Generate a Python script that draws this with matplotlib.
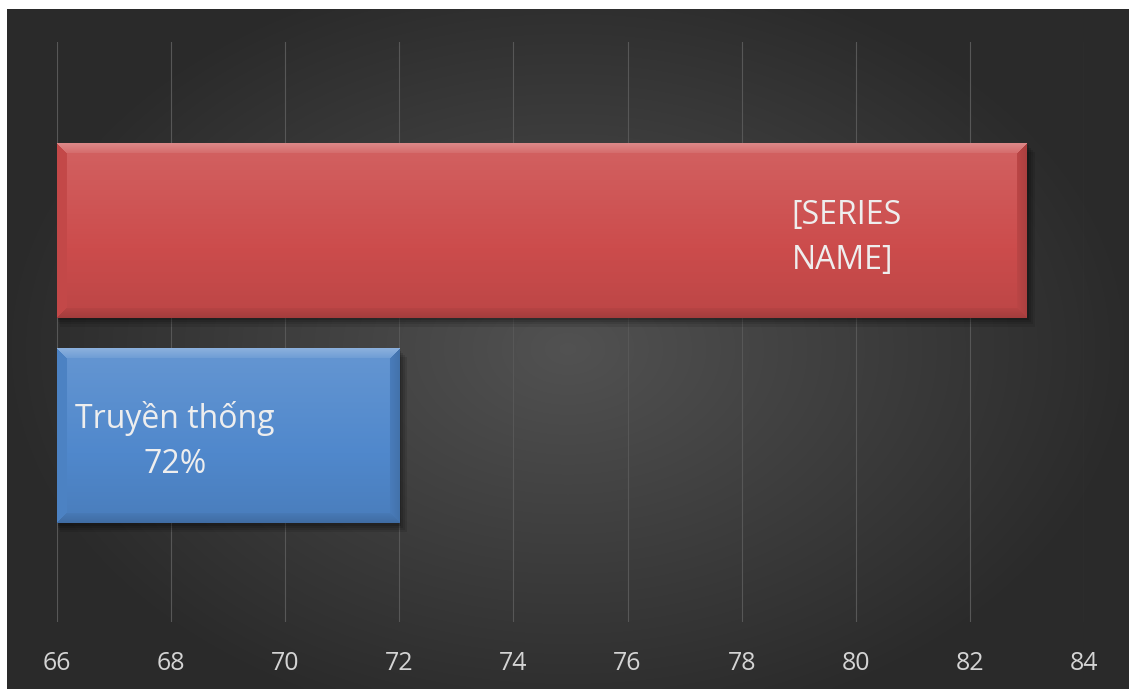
import numpy as np
import matplotlib.pyplot as plt
from matplotlib.colors import to_rgb

# dữ liệu
categories = ['Truyền thống', '[SERIES NAME]']
values = [72, 83]
label_texts = ['Truyền thống\n72%', '[SERIES\nNAME]']
bar_colors = ['#5088cc', '#cc4c4c']
x_min, x_max, x_step = 66, 84, 2

W, H, DPI = 1129, 689, 100
fig = plt.figure(figsize=(W / DPI, H / DPI), dpi=DPI, facecolor='white')

# nền tối với gradient tròn
bg = fig.add_axes([7 / W, 0, 1 - 7 / W, 1 - 9 / H])
bg.set_axis_off()
yy, xx = np.mgrid[-1:1:300j, -1:1:500j]
r = np.sqrt((xx / 1.05) ** 2 + (yy / 1.2) ** 2)
shade = np.clip(0.32 - 0.16 * r, 0.165, 0.33)
bg.imshow(np.dstack([shade] * 3), aspect='auto', extent=(0, 1, 0, 1),
          interpolation='bicubic')

ax = fig.add_axes([57 / W, 67 / H, 1027 / W, 580 / H])
ax.set_facecolor('none')
ax.set_zorder(2)

y_pos = np.arange(len(categories))
bars = ax.barh(y_pos, values, height=0.85, color='none', edgecolor='none')
ax.set_xlim(x_min, x_max)
ax.set_ylim(-0.905, 1.917)
ax.set_xticks(np.arange(x_min, x_max + 1, x_step))
ax.set_yticks([])
for s in ax.spines.values():
    s.set_visible(False)
ax.tick_params(axis='x', length=0, pad=21, labelsize=18, labelcolor='#d4d4d4')
for lab in ax.get_xticklabels():
    lab.set_family(['Open Sans', 'DejaVu Sans'])
ax.grid(axis='x', color='#575757', lw=0.8)
ax.set_axisbelow(True)

fig.canvas.draw()
px_per_x = ax.bbox.width / (x_max - x_min)
px_per_y = ax.bbox.height / (ax.get_ylim()[1] - ax.get_ylim()[0])


def bevel_image(color, w_px, h_px, b=10):
    base = np.array(to_rgb(color))
    i = np.arange(h_px)[:, None] * np.ones((1, w_px))
    j = np.ones((h_px, 1)) * np.arange(w_px)[None, :]
    dt, db, dl, dr = i, h_px - 1 - i, j, w_px - 1 - j
    d = np.stack([dt, db, dl, dr])
    face = np.argmin(d, axis=0)
    dmin = d.min(axis=0)
    inside = dmin >= b
    fade = 1 - 0.5 * dmin / b
    # thân: sáng ở trên, tối dần xuống dưới
    k = 0.12 - 0.2 * (i / h_px)
    k = np.where(inside, k, 0)
    k = np.where(~inside & (face == 0), 0.34 * fade, k)
    k = np.where(~inside & (face == 1), -0.2 * fade, k)
    k = np.where(~inside & (face == 2), -0.04, k)
    k = np.where(~inside & (face == 3), -0.16 * fade, k)
    k = k[..., None]
    img = np.where(k > 0, base + (1 - base) * k, base * (1 + k))
    return np.clip(img, 0, 1)


for rect, col in zip(bars, bar_colors):
    x0 = x_min
    x1 = rect.get_x() + rect.get_width()
    y0 = rect.get_y()
    y1 = y0 + rect.get_height()
    w_px = int(round((x1 - x0) * px_per_x))
    h_px = int(round((y1 - y0) * px_per_y))
    # bóng đổ
    for n, a in enumerate([0.10, 0.10, 0.12, 0.15]):
        off = (4 - n) * 2.2
        ax.add_patch(plt.Rectangle((x0 + off / px_per_x * 0.3, y0 - off / px_per_y),
                                   x1 - x0 + off / px_per_x * 0.6, y1 - y0,
                                   color='black', alpha=a, lw=0, zorder=3))
    ax.imshow(bevel_image(col, w_px, h_px), extent=(x0, x1, y0, y1),
              aspect='auto', zorder=4, interpolation='bilinear')

ax.set_xlim(x_min, x_max)
ax.set_ylim(-0.905, 1.917)

txt_font = ['Open Sans', 'DejaVu Sans']
ax.text(68.07, -0.025, label_texts[0], ha='center', va='center', multialignment='center',
        fontsize=23, color='#eeeeee', family=txt_font, linespacing=1.48, zorder=5)
ax.text(79.84, 0.965, label_texts[1], ha='center', va='center', multialignment='left',
        fontsize=23, color='#eeeeee', family=txt_font, linespacing=1.48, zorder=5)

fig.savefig('out.png', dpi=DPI, facecolor='white')
